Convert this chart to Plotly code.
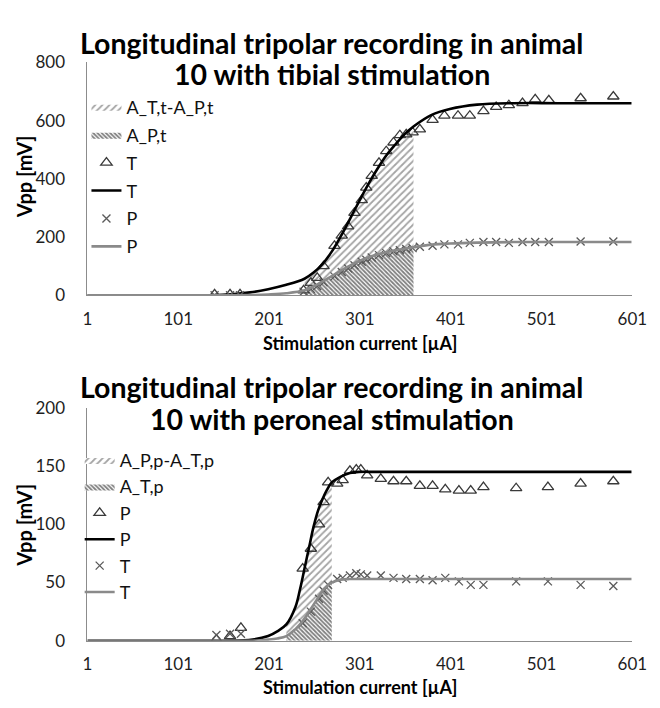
import plotly.graph_objects as go

# ---------------- data: tibial stimulation (top) ----------------
tib_x = [141, 158, 169, 239, 247, 254, 261, 273, 281, 288, 295, 303, 308, 314, 322, 330, 338,
         345, 352, 359, 367, 381, 394, 409, 422, 437, 451, 465, 480, 494, 509, 544, 580]
tib_T = [3, 3, 3, 17, 43, 60, 100, 170, 205, 237, 283, 327, 370, 410, 455, 495, 525,
         550, 553, 560, 570, 603, 617, 617, 617, 633, 647, 653, 660, 673, 670, 677, 683]
tib_P = [0, 0, 0, 12, 22, 32, 45, 65, 80, 92, 103, 115, 122, 130, 138, 145, 151,
         155, 159, 162, 167, 170, 175, 175, 180, 183, 183, 180, 183, 183, 183, 185, 185]

tib_fit_x = [1, 100, 150, 180, 200, 220, 240, 250, 260, 270, 280, 290, 300, 310, 320, 330, 340,
             350, 360, 380, 400, 430, 470, 520, 600]
tib_fit_T = [0, 0, 2, 10, 21, 36, 57, 78, 108, 150, 203, 262, 322, 380, 433, 480, 518,
             553, 580, 620, 640, 655, 660, 660, 660]
tib_fit_P = [0, 0, 0, 1, 3, 7, 17, 31, 48, 66, 85, 102, 118, 130, 140, 148, 155,
             160, 165, 174, 178, 181, 183, 183, 183]
tib_area_from, tib_area_to = 240, 360

# ---------------- data: peroneal stimulation (bottom) ----------------
per_x = [143, 158, 170, 238, 247, 256, 261, 266, 276, 282, 290, 297, 302, 309, 324, 338, 352,
         367, 381, 395, 410, 423, 437, 473, 508, 544, 580]
per_P = [1, 4, 11, 62, 79, 100, 119, 136, 135, 138, 146, 147, 147, 142, 139, 137, 137,
         133, 133, 130, 129, 129, 132, 131, 132, 135, 137]
per_T = [5, 6, 6, 15, 25, 36, 43, 48, 53, 54, 56, 58, 57, 56, 56, 54, 53,
         53, 52, 54, 51, 48, 48, 51, 51, 48, 47]

per_fit_x = [1, 100, 150, 183, 200, 210, 220, 230, 235, 240, 245, 250, 255, 260, 265, 270,
             280, 290, 300, 320, 400, 500, 600]
per_fit_P = [0, 0, 0, 1, 4, 8, 14, 29, 44, 62, 80, 98, 112, 122, 130, 136,
             141, 144, 145, 145, 145, 145, 145]
per_fit_T = [0, 0, 0, 0, 1, 2, 4, 10, 14, 19, 25, 31, 37, 43, 47, 50,
             52.5, 53, 53, 53, 53, 53, 53]
per_area_from, per_area_to = 220, 270

x_ticks = [1, 101, 201, 301, 401, 501, 601]
titles_top = ["Longitudinal tripolar recording in animal", "10 with tibial stimulation"]
titles_bot = ["Longitudinal tripolar recording in animal", "10 with peroneal stimulation"]
x_title = "Stimulation current [µA]"
y_title = "Vpp [mV]"

# ---------------- layout helpers ----------------
W, H = 660, 708
FONT = "Lato"
def fx(p):
    return p / W
def fy(p):
    return 1 - p / H

def sub(xs, ys, a, b):
    pts = [(x, y) for x, y in zip(xs, ys) if a <= x <= b]
    return [p[0] for p in pts], [p[1] for p in pts]

fig = go.Figure()

LIGHT = dict(shape="/", fgcolor="#4a4a4a", bgcolor="white", size=5, solidity=0.35)
DARK = dict(shape="\\", fgcolor="#000000", bgcolor="white", size=3, solidity=0.6)
TRI = dict(symbol="triangle-up-open", size=10, color="#3a3a3a", line=dict(width=1.3, color="#3a3a3a"))
CROSS = dict(symbol="x-thin-open", size=8, color="#5a5a5a", line=dict(width=1.3, color="#5a5a5a"))

def panel(xa, ya, leg, fa, fb, fitx, fit_hi, fit_lo, dx, d_hi, d_lo,
          nm_light, nm_dark, nm_hi, nm_lo):
    ax, alo = sub(fitx, fit_lo, fa, fb)
    _, ahi = sub(fitx, fit_hi, fa, fb)
    fig.add_trace(go.Scatter(x=ax, y=alo, mode="lines", line=dict(width=0, shape="spline"),
                             fill="tozeroy", fillpattern=DARK, fillcolor="rgba(0,0,0,0)",
                             name=nm_dark, xaxis=xa, yaxis=ya, legend=leg, legendrank=2,
                             legendgroup=leg + "b"))
    fig.add_trace(go.Scatter(x=ax, y=ahi, mode="lines", line=dict(width=0, shape="spline"),
                             fill="tonexty", fillpattern=LIGHT, fillcolor="rgba(0,0,0,0)",
                             name=nm_light, xaxis=xa, yaxis=ya, legend=leg, legendrank=1,
                             legendgroup=leg + "a"))
    fig.add_trace(go.Scatter(x=dx, y=d_hi, mode="markers", marker=TRI, name=nm_hi,
                             xaxis=xa, yaxis=ya, legend=leg, legendrank=3, legendgroup=leg + "c"))
    fig.add_trace(go.Scatter(x=fitx, y=fit_hi, mode="lines", line=dict(color="black", width=2.6, shape="spline"),
                             name=nm_hi, xaxis=xa, yaxis=ya, legend=leg, legendrank=4, legendgroup=leg + "d"))
    fig.add_trace(go.Scatter(x=dx, y=d_lo, mode="markers", marker=CROSS, name=nm_lo,
                             xaxis=xa, yaxis=ya, legend=leg, legendrank=5, legendgroup=leg + "e"))
    fig.add_trace(go.Scatter(x=fitx, y=fit_lo, mode="lines", line=dict(color="#8a8a8a", width=2.6, shape="spline"),
                             name=nm_lo, xaxis=xa, yaxis=ya, legend=leg, legendrank=6, legendgroup=leg + "f"))

panel("x", "y", "legend", tib_area_from, tib_area_to, tib_fit_x, tib_fit_T, tib_fit_P,
      tib_x, tib_T, tib_P, "A_T,t-A_P,t", "A_P,t", "T", "P")
panel("x2", "y2", "legend2", per_area_from, per_area_to, per_fit_x, per_fit_P, per_fit_T,
      per_x, per_P, per_T, "A_P,p-A_T,p", "A_T,p", "P", "T")

XDOM = [fx(85), fx(647)]
axis_common = dict(showgrid=False, zeroline=False, showline=True, linecolor="#8c8c8c", linewidth=1,
                   ticks="", tickfont=dict(family=FONT, size=17, color="#1e1e1e"))
xcommon = dict(domain=XDOM, range=[1, 601], tickvals=x_ticks, ticklabelstandoff=8,
               ticklabeloverflow="allow", **axis_common)
fig.update_layout(
    width=W, height=H, margin=dict(l=0, r=0, t=0, b=0),
    paper_bgcolor="white", plot_bgcolor="white",
    font=dict(family=FONT, color="#1e1e1e"),
    xaxis=dict(anchor="y", **xcommon),
    yaxis=dict(domain=[fy(293), fy(53)], range=[0, 800], dtick=200, anchor="x", ticklabelstandoff=18, **axis_common),
    xaxis2=dict(anchor="y2", **xcommon),
    yaxis2=dict(domain=[fy(649), fy(409)], range=[0, 200], dtick=50, anchor="x2", ticklabelstandoff=18, **axis_common),
    legend=dict(x=fx(84), y=fy(80), xanchor="left", yanchor="top", bgcolor="rgba(0,0,0,0)",
                font=dict(family=FONT, size=18, color="#111111"), itemwidth=30, tracegroupgap=1.5,
                traceorder="grouped"),
    legend2=dict(x=fx(77), y=fy(444), xanchor="left", yanchor="top", bgcolor="rgba(0,0,0,0)",
                 font=dict(family=FONT, size=18, color="#111111"), itemwidth=30, tracegroupgap=0,
                 traceorder="grouped"),
    showlegend=True,
)

ann = []
TF = dict(family=FONT, size=28.5, color="black", weight="bold")
for (l1, l2), y1, y2 in [(titles_top, 33, 65), (titles_bot, 388, 420)]:
    ann.append(dict(text=l1, x=fx(337), y=fy(y1), xref="paper", yref="paper", showarrow=False,
                    xanchor="center", yanchor="middle", font=TF))
    ann.append(dict(text=l2, x=fx(337), y=fy(y2), xref="paper", yref="paper", showarrow=False,
                    xanchor="center", yanchor="middle", font=TF))
AF = dict(family=FONT, size=18, color="black", weight="bold")
for yc in (342, 697):
    ann.append(dict(text=x_title, x=fx(366), y=fy(yc), xref="paper", yref="paper", showarrow=False,
                    xanchor="center", yanchor="middle", font=AF))
YF = dict(family=FONT, size=20, color="black", weight="bold")
for yc in (171, 530):
    ann.append(dict(text=y_title, x=fx(20), y=fy(yc), xref="paper", yref="paper", showarrow=False,
                    xanchor="center", yanchor="middle", textangle=-90, font=YF))
fig.update_layout(annotations=ann)

fig.write_html("out.html")
